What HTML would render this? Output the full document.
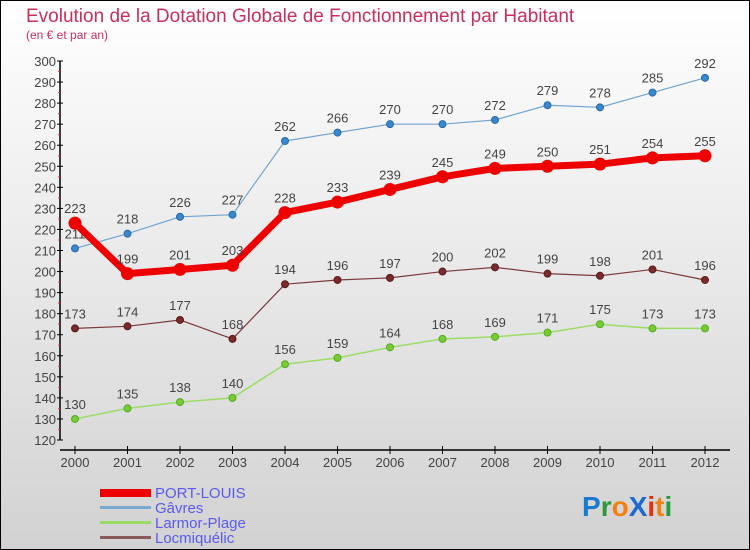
<!DOCTYPE html>
<html><head><meta charset="utf-8"><style>
body{margin:0;width:750px;height:550px;overflow:hidden}
svg{display:block;font-family:"Liberation Sans",sans-serif}
</style></head><body>
<svg width="750" height="550" xmlns="http://www.w3.org/2000/svg">
<defs><linearGradient id="bg" x1="0" y1="0" x2="0" y2="1"><stop offset="0" stop-color="#ffffff"/><stop offset="1" stop-color="#d2d2d2"/></linearGradient></defs>
<rect x="0.5" y="0.5" width="749" height="549" fill="url(#bg)" stroke="#000"/>
<text x="26" y="22" font-size="19" fill="#c8305a">Evolution de la Dotation Globale de Fonctionnement par Habitant</text>
<text x="26" y="39" font-size="12" fill="#c8305a">(en € et par an)</text>
<g id="axes"></g>
<g id="series"></g>
<g id="legend">
<rect x="100" y="489" width="51" height="8" fill="#e00"/>
<text x="155" y="498" font-size="15" fill="#5a5af0">PORT-LOUIS</text>
<rect x="100" y="506" width="51" height="3" fill="#7aaad0"/>
<text x="155" y="513" font-size="15" fill="#5a5af0">Gâvres</text>
<rect x="100" y="521" width="51" height="3" fill="#99dd66"/>
<text x="155" y="528" font-size="15" fill="#5a5af0">Larmor-Plage</text>
<rect x="100" y="536" width="51" height="3" fill="#8a5a5a"/>
<text x="155" y="543" font-size="15" fill="#5a5af0">Locmiquélic</text>
</g>
<g font-size="28" font-weight="bold">
<text x="582" y="516"><tspan fill="#1a7ad0">P</tspan><tspan fill="#2a9a3a">r</tspan><tspan fill="#f08010">o</tspan><tspan fill="#1a6ad0">X</tspan><tspan fill="#e03010">i</tspan><tspan fill="#f08010">t</tspan><tspan fill="#2a9a3a">i</tspan></text>
</g>
</svg>
<script>
const years=[2000,2001,2002,2003,2004,2005,2006,2007,2008,2009,2010,2011,2012];
const portLouis=[223,199,201,203,228,233,239,245,249,250,251,254,255];
const gavres=[211,218,226,227,262,266,270,270,272,279,278,285,292];
const larmor=[130,135,138,140,156,159,164,168,169,171,175,173,173];
const locmiquelic=[173,174,177,168,194,196,197,200,202,199,198,201,196];
const yTicks=[120,130,140,150,160,170,180,190,200,210,220,230,240,250,260,270,280,290,300];
const NS="http://www.w3.org/2000/svg";
const x=i=>75+i*(630/(years.length-1));
const y=v=>440-(v-120)*(379/180);
function mk(t,a,p){const e=document.createElementNS(NS,t);for(const k in a)e.setAttribute(k,a[k]);p.appendChild(e);return e;}
const ax=document.getElementById('axes');
const yl=mk('line',{x1:60,y1:y(300),x2:60,y2:y(120),stroke:'#000','stroke-width':1.5},ax);


yTicks.forEach(v=>{
 mk('line',{x1:57,x2:63,y1:y(v),y2:y(v),stroke:'#000'},ax);
 if(v<300)mk('line',{x1:58,x2:60,y1:y(v+5),y2:y(v+5),stroke:'#e33'},ax);
 const t=mk('text',{x:56,y:y(v)+5,'text-anchor':'end','font-size':13,fill:'#444'},ax);
 t.textContent=v;
 
 
});
const xl=mk('line',{x1:60,y1:450,x2:730,y2:450,stroke:'#000','stroke-width':1.5},ax);


years.forEach((yr,i)=>{
 mk('line',{x1:x(i),x2:x(i),y1:446,y2:454,stroke:'#000'},ax);
 const t=mk('text',{x:x(i),y:467,'text-anchor':'middle','font-size':13,fill:'#444'},ax);
 t.textContent=yr;
 
 
});
const sg=document.getElementById('series');
function draw(data,name,color,w,r,dot,dotStroke){
 const g=mk('g',{},sg);
 
 
 const p=mk('polyline',{points:data.map((v,i)=>x(i)+','+y(v)).join(' '),fill:'none',stroke:color,'stroke-width':w,'stroke-linejoin':'round'},g);
 
 
 data.forEach((v,i)=>{
  const c=mk('circle',{cx:x(i),cy:y(v),r:r,fill:dot,stroke:dotStroke,'stroke-width':1},g);
  
  
  const t=mk('text',{x:x(i),y:y(v)-10,'text-anchor':'middle','font-size':13,fill:'#444'},g);
  t.textContent=v;
  
  
 });
}
draw(locmiquelic,'locmiquelic','#7a3a3a',1.2,3.5,'#7a2a2a','#5a1a1a');
draw(larmor,'larmor-plage','#99dd66',1.5,3.5,'#77cc33','#55aa22');
draw(gavres,'gavres','#6fa3d0',1.2,3.5,'#3a88cc','#2a68aa');
draw(portLouis,'port-louis','#ee0000',7,6,'#ee0000','#ee0000');
</script>
</body></html>
